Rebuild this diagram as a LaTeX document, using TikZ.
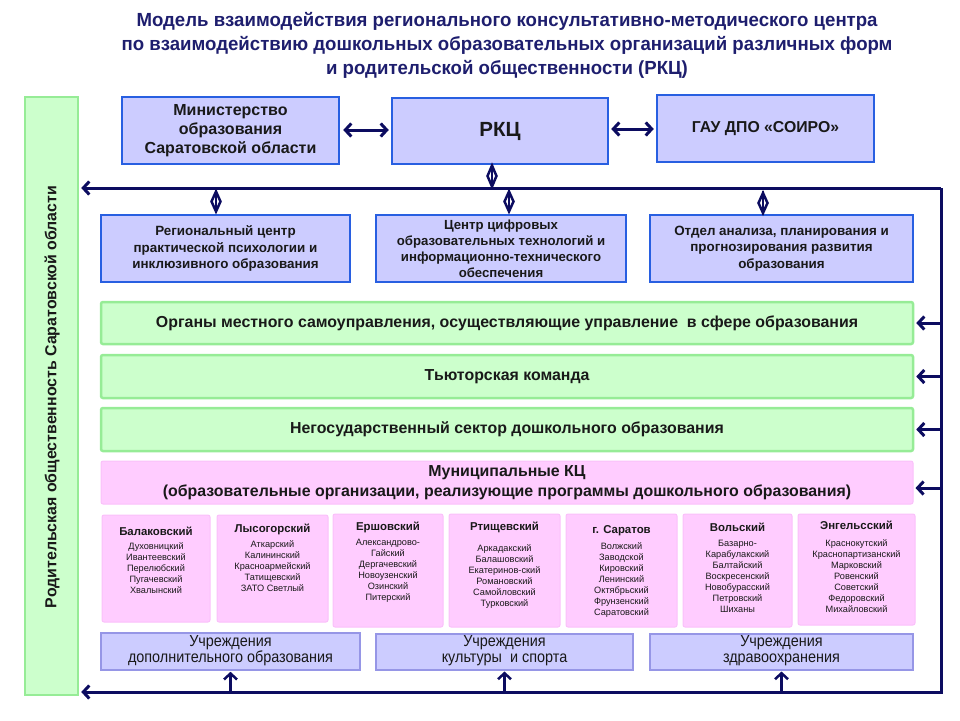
\documentclass[tikz,border=0pt]{standalone}
\usepackage{fontspec}
\setmainfont{Liberation Sans}
\usetikzlibrary{arrows.meta,shapes.geometric}
\definecolor{navyc}{RGB}{12,12,96}
\definecolor{titlec}{RGB}{30,30,110}
\definecolor{bfill}{RGB}{204,204,255}
\definecolor{bborder}{RGB}{40,95,225}
\definecolor{lborder}{RGB}{150,150,230}
\definecolor{gfill}{RGB}{204,255,204}
\definecolor{gborder}{RGB}{150,236,150}
\definecolor{pfill}{RGB}{255,204,255}
\definecolor{pborder}{RGB}{250,192,250}
\definecolor{txt}{RGB}{25,25,25}
\newcommand\narrowtxt[2][0.84]{\scalebox{#1}[1]{\begin{tabular}{@{}c@{}}#2\end{tabular}}}
\begin{document}
\begin{tikzpicture}[x=1pt,y=-1pt,
  box/.style={rectangle, inner sep=2pt, align=center, text=txt},
  bluebox/.style={box, fill=bfill, draw=bborder, line width=2.5pt},
  greenbar/.style={box, fill=gfill, draw=gborder, line width=2.5pt, rounded corners=2pt, font=\bfseries\fontsize{15.9}{20}\selectfont},
  pinkbox/.style={box, fill=pfill, draw=pborder, line width=1pt, rounded corners=2pt},
  lowbox/.style={box, fill=bfill, draw=lborder, line width=2pt},
  midtxt/.style={font=\bfseries\fontsize{13.4}{16.5}\selectfont},
  conn/.style={draw=navyc, line width=3pt},
  arr/.style={conn, -{Straight Barb[length=6pt,width=13pt]}},
  dbl/.style={conn, {Straight Barb[length=6pt,width=13pt]}-{Straight Barb[length=6pt,width=13pt]}},
  dmd/.style={diamond, draw=navyc, fill=white, line width=2.5pt, minimum width=10pt, inner sep=0pt},
  mhead/.style={inner sep=0pt, text=txt, font=\bfseries\fontsize{11.4}{13}\selectfont},
  mitems/.style={anchor=north, inner sep=0pt, align=center, text=txt, font=\fontsize{9.2}{11}\selectfont}
]
\useasboundingbox (0,0) rectangle (960,720);

% title
\node[text=titlec, font=\bfseries\fontsize{19}{24}\selectfont] (title) at (507,46)
  {\narrowtxt[0.98]{Модель взаимодействия регионального консультативно-методического центра\\
  по взаимодействию дошкольных образовательных организаций различных форм\\
  и родительской общественности (РКЦ)}};

% left vertical box
\node[box, fill=gfill, draw=gborder, line width=2.5pt, minimum width=53pt, minimum height=598pt] (left) at (51.5,396) {};
\node[rotate=90, text=txt, font=\bfseries\fontsize{15.9}{17}\selectfont] (lefttxt) at (52,397) {Родительская общественность Саратовской области};

% top row
\node[bluebox, minimum width=217pt, minimum height=67pt, font=\bfseries\fontsize{16}{19}\selectfont] (min) at (230.5,130.5)
  {Министерство\\образования\\Саратовской области};
\node[bluebox, minimum width=216pt, minimum height=66pt, font=\bfseries\fontsize{20.5}{24}\selectfont] (rkc) at (500,131) {РКЦ};
\node[bluebox, minimum width=217pt, minimum height=67pt, font=\bfseries\fontsize{15.8}{19}\selectfont] (gau) at (765.5,128.5) {ГАУ ДПО «СОИРО»};

\draw[dbl, shorten <=3pt, shorten >=2pt] (min.east |- 0,130) coordinate (a1) -- (a1 -| rkc.west);
\draw[dbl, shorten <=2pt, shorten >=2pt] (rkc.east |- 0,129) coordinate (a2) -- (a2 -| gau.west);

% second row
\node[bluebox, minimum width=249pt, minimum height=67pt, midtxt] (reg) at (225.5,248.5)
  {Региональный центр\\практической психологии и\\инклюзивного образования};
\node[bluebox, minimum width=250pt, minimum height=67pt, font=\bfseries\fontsize{13.2}{16}\selectfont] (dig) at (501,248.5)
  {Центр цифровых\\образовательных технологий и\\информационно-технического\\обеспечения};
\node[bluebox, minimum width=263pt, minimum height=67pt, midtxt] (dep) at (781.5,248.5)
  {Отдел анализа, планирования и\\прогнозирования развития\\образования};

% frame
\coordinate (ftr) at (941,188);
\coordinate (fbr) at (941,692);
\draw[arr, shorten >=2pt] (ftr) -- (ftr -| left.east);
\draw[arr, shorten >=2pt] (ftr) -- (fbr) -- (fbr -| left.east);

% diamonds
\node[dmd, minimum height=22pt] (d0) at (492,176) {};
\draw[draw=navyc, line width=2pt] (d0.north) -- (d0.south);
\node[dmd, minimum height=21pt] (d1) at (216,201.5) {};
\draw[draw=navyc, line width=2pt] (d1.north) -- (d1.south);
\node[dmd, minimum height=21pt] (d2) at (509,201.5) {};
\draw[draw=navyc, line width=2pt] (d2.north) -- (d2.south);
\node[dmd, minimum height=21pt] (d3) at (763,203) {};
\draw[draw=navyc, line width=2pt] (d3.north) -- (d3.south);

% bars
\node[greenbar, minimum width=812pt, minimum height=42pt] (g1) at (507,323)
  {Органы местного самоуправления, осуществляющие управление \ в сфере образования};
\node[greenbar, minimum width=812pt, minimum height=43pt] (g2) at (507,376.5) {Тьюторская команда};
\node[greenbar, minimum width=812pt, minimum height=43pt] (g3) at (507,429.5) {Негосударственный сектор дошкольного образования};
\node[pinkbox, minimum width=812pt, minimum height=43pt, font=\bfseries\fontsize{15.9}{20}\selectfont] (mkc) at (507,482.5)
  {Муниципальные КЦ\\(образовательные организации, реализующие программы дошкольного образования)};

\draw[arr, shorten >=2pt] (g1.east -| ftr) -- (g1.east);
\draw[arr, shorten >=2pt] (g2.east -| ftr) -- (g2.east);
\draw[arr, shorten >=2pt] (g3.east -| ftr) -- (g3.east);
\draw[arr, shorten >=2pt] (ftr |- 0,488) coordinate (a3) -- (a3 -| mkc.east);

% municipal boxes
\node[pinkbox, minimum width=108pt, minimum height=107pt] (m1) at (156,568.5) {};
\node[pinkbox, minimum width=111pt, minimum height=107pt] (m2) at (272.5,568.5) {};
\node[pinkbox, minimum width=110pt, minimum height=113pt] (m3) at (388,570.5) {};
\node[pinkbox, minimum width=111pt, minimum height=113pt] (m4) at (504.5,570.5) {};
\node[pinkbox, minimum width=111pt, minimum height=113pt] (m5) at (621.5,570.5) {};
\node[pinkbox, minimum width=109pt, minimum height=113pt] (m6) at (737.5,570.5) {};
\node[pinkbox, minimum width=117pt, minimum height=111pt] (m7) at (856.5,569.5) {};

\node[mhead] (h1) at (156,531) {Балаковский};
\node[mitems] (i1) at (156,542.5) {Духовницкий\\Ивантеевский\\Перелюбский\\Пугачевский\\Хвалынский};
\node[mhead] (h2) at (272.5,529) {Лысогорский};
\node[mitems] (i2) at (272.5,540.5) {Аткарский\\Калининский\\Красноармейский\\Татищевский\\ЗАТО Светлый};
\node[mhead] (h3) at (388,527) {Ершовский};
\node[mitems] (i3) at (388,539) {Александрово-\\Гайский\\Дергачевский\\Новоузенский\\Озинский\\Питерский};
\node[mhead] (h4) at (504.5,527) {Ртищевский};
\node[mitems] (i4) at (504.5,544.5) {Аркадакский\\Балашовский\\Екатеринов-ский\\Романовский\\Самойловский\\Турковский};
\node[mhead] (h5) at (621.5,531) {г. Саратов};
\node[mitems] (i5) at (621.5,542) {Волжский\\Заводской\\Кировский\\Ленинский\\Октябрьский\\Фрунзенский\\Саратовский};
\node[mhead] (h6) at (737.5,527) {Вольский};
\node[mitems] (i6) at (737.5,540) {Базарно-\\Карабулакский\\Балтайский\\Воскресенский\\Новобурасский\\Петровский\\Шиханы};
\node[mhead] (h7) at (856.5,525) {Энгельсский};
\node[mitems] (i7) at (856.5,539) {Краснокутский\\Краснопартизанский\\Марковский\\Ровенский\\Советский\\Федоровский\\Михайловский};

% bottom boxes
\node[lowbox, minimum width=259pt, minimum height=33pt, font=\fontsize{16}{16}\selectfont] (b1) at (230.5,651.5)
  {\narrowtxt[0.9]{Учреждения\\дополнительного образования}};
\node[lowbox, minimum width=257pt, minimum height=33pt, font=\fontsize{16}{16}\selectfont] (b2) at (504.5,651.5)
  {\narrowtxt[0.9]{Учреждения\\культуры \ и спорта}};
\node[lowbox, minimum width=263pt, minimum height=33pt, font=\fontsize{16}{16}\selectfont] (b3) at (781.5,651.5)
  {\narrowtxt[0.9]{Учреждения\\здравоохранения}};

\draw[arr, line width=2.5pt, shorten >=1pt] (b1.south |- fbr) -- (b1.south);
\draw[arr, line width=2.5pt, shorten >=1pt] (b2.south |- fbr) -- (b2.south);
\draw[arr, line width=2.5pt, shorten >=1pt] (b3.south |- fbr) -- (b3.south);
\end{tikzpicture}
\end{document}
